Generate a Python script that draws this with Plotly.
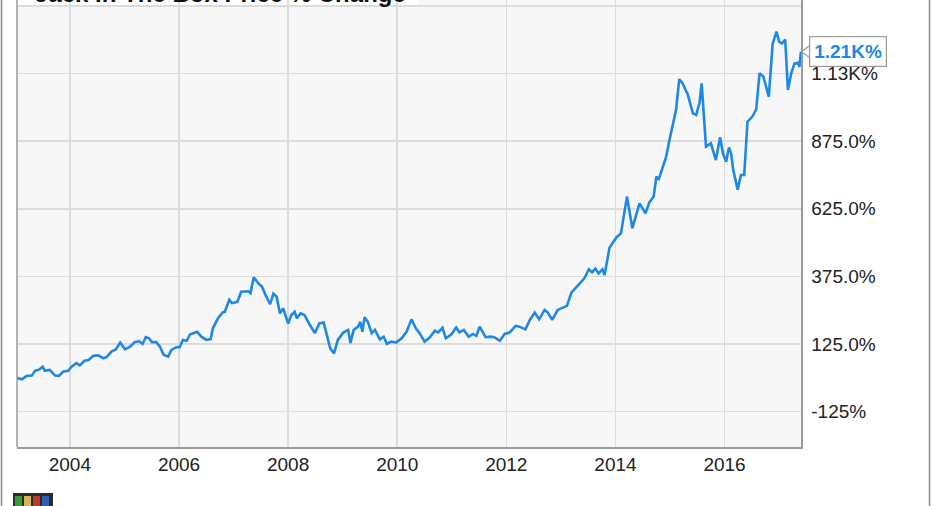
import pandas as pd
import plotly.graph_objects as go

# ---- data ----
decimal_years = [
    2003.03, 2003.12, 2003.21, 2003.30, 2003.36, 2003.44, 2003.50, 2003.54, 2003.63, 2003.73,
    2003.80, 2003.88, 2003.97, 2004.03, 2004.12, 2004.18, 2004.27, 2004.34, 2004.43, 2004.52,
    2004.61, 2004.67, 2004.76, 2004.84, 2004.92, 2005.01, 2005.10, 2005.19, 2005.27, 2005.33,
    2005.39, 2005.45, 2005.50, 2005.58, 2005.65, 2005.72, 2005.80, 2005.86, 2005.95, 2006.01,
    2006.07, 2006.14, 2006.20, 2006.27, 2006.33, 2006.41, 2006.50, 2006.58, 2006.62, 2006.72,
    2006.80, 2006.84, 2006.92, 2006.97, 2007.07, 2007.14, 2007.27, 2007.31, 2007.37, 2007.46,
    2007.52, 2007.60, 2007.67, 2007.73, 2007.79, 2007.85, 2007.91, 2008.00, 2008.06, 2008.12,
    2008.16, 2008.23, 2008.30, 2008.40, 2008.49, 2008.57, 2008.65, 2008.71, 2008.77, 2008.84,
    2008.91, 2009.01, 2009.10, 2009.14, 2009.20, 2009.28, 2009.32, 2009.36, 2009.40, 2009.46,
    2009.53, 2009.59, 2009.68, 2009.75, 2009.81, 2009.89, 2009.98, 2010.08, 2010.17, 2010.26,
    2010.34, 2010.41, 2010.50, 2010.59, 2010.69, 2010.75, 2010.83, 2010.89, 2010.99, 2011.08,
    2011.14, 2011.22, 2011.31, 2011.39, 2011.45, 2011.51, 2011.62, 2011.71, 2011.78, 2011.88,
    2011.97, 2012.06, 2012.17, 2012.24, 2012.35, 2012.43, 2012.52, 2012.60, 2012.70, 2012.76,
    2012.84, 2012.94, 2013.04, 2013.11, 2013.19, 2013.28, 2013.37, 2013.43, 2013.51, 2013.57,
    2013.63, 2013.69, 2013.76, 2013.80, 2013.89, 2013.96, 2014.02, 2014.10, 2014.21, 2014.31,
    2014.44, 2014.55, 2014.62, 2014.70, 2014.75, 2014.79, 2014.87, 2014.93, 2014.99, 2015.05,
    2015.11, 2015.17, 2015.23, 2015.30, 2015.32, 2015.42, 2015.48, 2015.54, 2015.58, 2015.66,
    2015.75, 2015.84, 2015.92, 2015.97, 2016.03, 2016.08, 2016.12, 2016.16, 2016.24, 2016.30,
    2016.36, 2016.42, 2016.51, 2016.58, 2016.64, 2016.71, 2016.76, 2016.81, 2016.88, 2016.95,
    2017.00, 2017.05, 2017.11, 2017.16, 2017.22, 2017.28, 2017.34, 2017.37, 2017.40,
]
pct_change = [
    0, -6, 7, 8, 26, 31, 41, 26, 29, 8,
    7, 23, 26, 41, 54, 46, 63, 66, 81, 83,
    72, 76, 97, 105, 130, 105, 115, 132, 135, 125,
    150, 146, 132, 132, 115, 84, 78, 103, 113, 113,
    140, 137, 160, 165, 170, 152, 140, 143, 183, 222,
    242, 244, 288, 276, 281, 318, 320, 313, 372, 348,
    337, 300, 272, 311, 300, 238, 257, 201, 232, 244,
    220, 238, 232, 195, 165, 201, 204, 158, 109, 90,
    140, 167, 177, 128, 177, 189, 207, 170, 224, 207,
    165, 177, 142, 152, 125, 134, 130, 146, 170, 216,
    183, 165, 134, 148, 174, 168, 185, 146, 160, 186,
    168, 177, 152, 162, 155, 189, 150, 152, 150, 137,
    162, 167, 192, 189, 179, 214, 241, 216, 251, 241,
    214, 251, 261, 266, 315, 334, 355, 368, 401, 390,
    404, 386, 401, 380, 481, 503, 520, 534, 670, 553,
    645, 608, 648, 670, 744, 732, 781, 818, 879, 941,
    990, 1104, 1089, 1058, 1052, 978, 972, 1015, 1089, 855,
    867, 805, 889, 830, 799, 852, 830, 768, 695, 750,
    750, 947, 966, 993, 1126, 1114, 1077, 1040, 1234, 1280,
    1243, 1236, 1251, 1064, 1126, 1162, 1165, 1150, 1206,
]
y_tick_values = [-125, 125, 375, 625, 875, 1125, 1375]
y_tick_labels = ["-125%", "125.0%", "375.0%", "625.0%", "875.0%", "1.13K%", "1.38K%"]
title_text = "Jack In The Box Price % Change"
last_label = "1.21K%"
x_range_years = [2003.03, 2017.40]
y_range = [-256, 1397]


def to_ts(dy):
    yr = int(dy)
    start = pd.Timestamp(year=yr, month=1, day=1)
    end = pd.Timestamp(year=yr + 1, month=1, day=1)
    return start + (end - start) * (dy - yr)


dates = [to_ts(d) for d in decimal_years]

W, H = 931, 506
ML, MR, MT, MB = 17, 130, 0, 59
PW, PH = W - ML - MR, H - MT - MB

LINE = "#1e88e5"
GRID = "#dcdcdc"
FONT = "Liberation Sans, Arial, sans-serif"

fig = go.Figure()
fig.add_trace(go.Scatter(x=dates, y=pct_change, mode="lines",
                         line=dict(color=LINE, width=2.6), hoverinfo="skip",
                         showlegend=False))


def px_x(p):
    return (p - ML) / PW


def px_y(p):
    return (H - MB - p) / PH


shapes = []
# title background (white)
shapes.append(dict(type="rect", xref="paper", yref="paper", x0=0, x1=px_x(418),
                   y0=px_y(6), y1=1.0, fillcolor="white", line=dict(width=0), layer="below"))
# left plot border
shapes.append(dict(type="line", xref="paper", yref="paper", x0=0, x1=0, y0=0, y1=1,
                   line=dict(color="#9a9a9a", width=1.5)))
# outer frame lines
shapes.append(dict(type="line", xref="paper", yref="paper", x0=px_x(1.5), x1=px_x(1.5),
                   y0=px_y(506), y1=1, line=dict(color="#8a8a8a", width=1.5)))
shapes.append(dict(type="line", xref="paper", yref="paper", x0=px_x(929.5), x1=px_x(929.5),
                   y0=px_y(506), y1=1, line=dict(color="#8a8a8a", width=1.5)))
# small logo at bottom-left
shapes.append(dict(type="rect", xref="paper", yref="paper", x0=px_x(13), x1=px_x(53),
                   y0=px_y(506), y1=px_y(493), fillcolor="#2b2b2b", line=dict(width=0)))
for i, c in enumerate(["#3a9a3a", "#d9b45a", "#c0392b", "#2e5fb0"]):
    shapes.append(dict(type="rect", xref="paper", yref="paper",
                       x0=px_x(15 + i * 9), x1=px_x(22 + i * 9),
                       y0=px_y(506), y1=px_y(496), fillcolor=c, line=dict(width=0)))

# pointer notch for the last-value label
unit_per_px = (y_range[1] - y_range[0]) / PH
lv = pct_change[-1]
shapes.append(dict(type="path", xref="paper", yref="y",
                   path=f"M {px_x(809.5)},{lv + 6 * unit_per_px} L {px_x(801.5)},{lv} "
                        f"L {px_x(809.5)},{lv - 6 * unit_per_px} Z",
                   fillcolor="white", line=dict(color="#9a9a9a", width=1.2), layer="above"))

annotations = [
    dict(text=f"<b>{title_text}</b>", xref="paper", yref="paper", x=px_x(33), y=1,
         xanchor="left", yanchor="bottom", yshift=-9, showarrow=False,
         font=dict(family=FONT, size=24, color="#111")),
    dict(text=f"<b>{last_label}</b>", xref="paper", yref="y", x=px_x(809), y=lv,
         xanchor="left", yanchor="middle", showarrow=False,
         font=dict(family=FONT, size=19, color=LINE),
         bgcolor="white", bordercolor="#9a9a9a", borderwidth=1.2, borderpad=4),
]

fig.update_layout(
    width=W, height=H,
    margin=dict(l=ML, r=MR, t=MT, b=MB, pad=0, autoexpand=False),
    paper_bgcolor="white", plot_bgcolor="#f7f7f7",
    font=dict(family=FONT, size=19, color="#222"),
    shapes=shapes, annotations=annotations,
    xaxis=dict(type="date", range=[to_ts(x_range_years[0]), to_ts(x_range_years[1])],
               dtick="M24", tick0="2004-01-01", tickformat="%Y",
               showgrid=True, gridcolor=GRID, gridwidth=1.6, automargin=False,
               showline=True, linecolor="#9a9a9a", linewidth=1.5,
               ticks="", ticklabelstandoff=0, zeroline=False,
               tickfont=dict(family=FONT, size=19, color="#222")),
    yaxis=dict(side="right", range=y_range, tickvals=y_tick_values, ticktext=y_tick_labels,
               showgrid=True, gridcolor=GRID, gridwidth=1.6, zeroline=False, automargin=False,
               showline=True, linecolor="#9a9a9a", linewidth=1.5,
               ticks="", ticklabelstandoff=5,
               tickfont=dict(family=FONT, size=19, color="#222")),
)

fig.write_html("out.html", config={"displayModeBar": False, "staticPlot": True},
               post_script="document.body.style.margin='0';document.body.style.overflow='hidden';")
